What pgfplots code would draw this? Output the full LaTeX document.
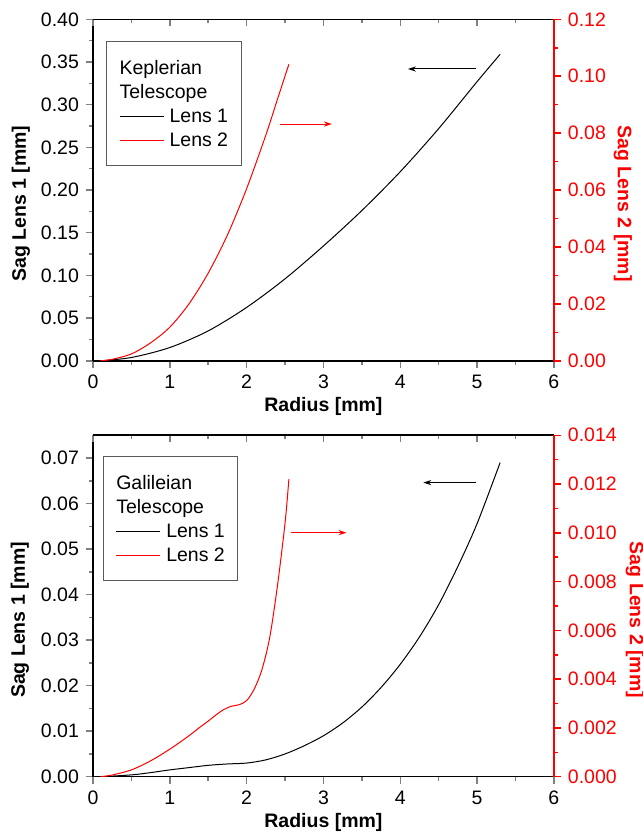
\documentclass[border=0pt]{standalone}
\usepackage{fontspec}
\setmainfont{Liberation Sans}
\usepackage{pgfplots}
\pgfplotsset{compat=1.18}
\usetikzlibrary{arrows.meta}

\definecolor{legframe}{RGB}{90,90,90}
\newcommand{\legline}[1]{\textcolor{#1}{\rule[2.75pt]{22pt}{0.5pt}}}

\pgfplotsset{
  sagbase/.style={
    scale only axis, width=230.5pt, height=170.75pt,
    xmin=0, xmax=6,
    tick align=outside,
    major tick length=3.5pt, minor tick length=2pt,
    tick style={line width=0.75pt},
    axis line style={line width=0.75pt},
    ticklabel style={font=\fontsize{9.75}{11}\selectfont},
    label style={font=\fontsize{9.75}{11}\selectfont\bfseries},
    scaled y ticks=false,
    /pgf/number format/assume math mode=true,
  },
  prec/.style={yticklabel style={/pgf/number format/fixed,
    /pgf/number format/fixed zerofill, /pgf/number format/precision=#1}},
  sagtop/.style={sagbase, axis x line*=top, axis y line=none,
    tick align=inside, xtick={0,1,2,3,4,5,6}, minor x tick num=1,
    xticklabels={}, ymin=0, ymax=1},
  arrowline/.style={line width=0.5pt, -{Stealth[length=4pt,width=2.6pt]}},
}

\begin{document}
\begin{tikzpicture}

% ---------------- Keplerian (top) ----------------
\begin{axis}[sagbase,
  axis x line*=bottom, axis y line*=left,
  ymin=0, ymax=0.4,
  xtick={0,1,2,3,4,5,6}, minor x tick num=1,
  ytick={0,0.05,0.1,0.15,0.2,0.25,0.3,0.35,0.4}, minor y tick num=1,
  prec=2,
  xlabel={Radius [mm]}, ylabel={Sag Lens 1 [mm]},
  xlabel style={at={(axis description cs:0.5,-0.1347)}, anchor=center},
  ylabel style={at={(axis description cs:-0.1562,0.46)}, anchor=center},
]
\addplot[black, line width=0.5pt, smooth] coordinates {
  (0.1,0) (0.5,0.0038) (1,0.0155) (1.5,0.035) (2,0.0625) (2.5,0.096)
  (3,0.1345) (3.5,0.176) (4,0.2215) (4.5,0.272) (5,0.327) (5.3,0.359)};
\addplot[black, arrowline] coordinates {(4.98,0.3418) (4.10,0.3418)};
\addplot[red, arrowline] coordinates {(2.43,0.2773) (3.11,0.2773)};
\end{axis}

\begin{axis}[sagtop]
\end{axis}

\begin{axis}[sagbase,
  axis x line=none, axis y line*=right,
  ymin=0, ymax=0.12,
  ytick={0,0.02,0.04,0.06,0.08,0.1,0.12}, minor y tick num=1,
  y axis line style={red}, tick style={red},
  yticklabel style={red}, prec=2,
  ylabel={Sag Lens 2 [mm]},
  ylabel style={red, at={(axis description cs:1.1497,0.46)}, anchor=center, rotate=180},
]
\addplot[red, line width=0.5pt, smooth] coordinates {
  (0.1,0) (0.25,0.0005) (0.5,0.0024) (0.75,0.0063) (1,0.0118) (1.25,0.0200)
  (1.5,0.0308) (1.75,0.0442) (2,0.0605) (2.25,0.0793) (2.4,0.0918) (2.55,0.1042)};
\node[draw=legframe, line width=0.6pt, fill=white, anchor=north west, align=left,
  font=\fontsize{9.75}{12}\selectfont, inner xsep=6.5pt, inner ysep=9.4pt]
  at (rel axis cs:0.0282,0.9365)
  {Keplerian\\Telescope\\\legline{black}\hspace{3pt}Lens 1\\\legline{red}\hspace{3pt}Lens 2};
\end{axis}

% ---------------- Galileian (bottom) ----------------
\begin{axis}[sagbase, at={(0,-208pt)},
  axis x line*=bottom, axis y line*=left,
  ymin=0, ymax=0.075,
  xtick={0,1,2,3,4,5,6}, minor x tick num=1,
  ytick={0,0.01,0.02,0.03,0.04,0.05,0.06,0.07}, minor y tick num=1,
  prec=2,
  xlabel={Radius [mm]}, ylabel={Sag Lens 1 [mm]},
  xlabel style={at={(axis description cs:0.5,-0.1347)}, anchor=center},
  ylabel style={at={(axis description cs:-0.1584,0.459)}, anchor=center},
]
\addplot[black, line width=0.5pt, smooth] coordinates {
  (0.1,0) (0.5,0.0004) (0.75,0.0009) (1,0.0015) (1.25,0.0020) (1.5,0.0025)
  (1.75,0.0028) (2,0.0030) (2.25,0.0037) (2.5,0.0050) (2.75,0.0068) (3,0.0090)
  (3.25,0.0118) (3.5,0.0153) (3.75,0.0196) (4,0.0247) (4.25,0.0307) (4.5,0.0378)
  (4.75,0.0462) (5,0.0556) (5.3,0.0690)};
\addplot[black, arrowline] coordinates {(4.99,0.0646) (4.30,0.0646)};
\addplot[red, arrowline] coordinates {(2.575,0.0536) (3.30,0.0536)};
\end{axis}

\begin{axis}[sagtop, at={(0,-208pt)}]
\end{axis}

\begin{axis}[sagbase, at={(0,-208pt)},
  axis x line=none, axis y line*=right,
  ymin=0, ymax=0.014,
  ytick={0,0.002,0.004,0.006,0.008,0.01,0.012,0.014}, minor y tick num=1,
  y axis line style={red}, tick style={red},
  yticklabel style={red}, prec=3,
  ylabel={Sag Lens 2 [mm]},
  ylabel style={red, at={(axis description cs:1.1757,0.459)}, anchor=center, rotate=180},
]
\addplot[red, line width=0.5pt, smooth] coordinates {
  (0.1,0) (0.25,0.00007) (0.5,0.00028) (0.75,0.00065) (1,0.00113) (1.25,0.00168)
  (1.4,0.00205) (1.5,0.00228) (1.6,0.00253) (1.7,0.00275) (1.8,0.00289) (1.9,0.00295)
  (2,0.00312) (2.1,0.0036) (2.2,0.0044) (2.3,0.0057) (2.4,0.0078) (2.5,0.0104)
  (2.55,0.0122)};
\node[draw=legframe, line width=0.6pt, fill=white, anchor=north west, align=left,
  font=\fontsize{9.75}{12}\selectfont, inner xsep=6.5pt, inner ysep=9.4pt]
  at (rel axis cs:0.021,0.9394)
  {Galileian\\Telescope\\\legline{black}\hspace{3pt}Lens 1\\\legline{red}\hspace{3pt}Lens 2};
\end{axis}

\pgfresetboundingbox
\path[use as bounding box] (-46.5pt,-235.65pt) rectangle (275pt,180.4pt);
\end{tikzpicture}
\end{document}
